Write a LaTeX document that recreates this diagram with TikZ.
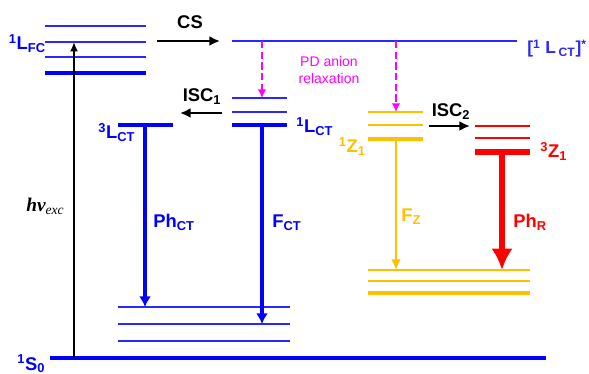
\documentclass[tikz,border=0pt]{standalone}
\usepackage{fontspec}
\setmainfont{Liberation Sans}
\newfontfamily\timesfont{Liberation Serif}
\usetikzlibrary{arrows.meta,positioning,calc}
\definecolor{lblue}{RGB}{0,0,255}
\definecolor{tblue}{RGB}{40,40,255}
\definecolor{zorange}{RGB}{255,192,0}
\definecolor{zred}{RGB}{255,0,0}
\definecolor{pdmag}{RGB}{255,0,255}
\begin{document}
\begin{tikzpicture}[x=0.75pt,y=-0.75pt,>=Latex,
lev/.style={line width=1pt},
levb/.style={line width=3.6pt},
lab/.style={font=\fontsize{13.8}{16}\selectfont\bfseries,inner sep=0pt},
decay/.style={-{Latex[length=8pt,width=9pt]},line width=2.7pt,draw=lblue},
flow/.style={-{Latex[length=8pt,width=7.5pt]},line width=1.7pt},
relax/.style={-{Latex[length=6.5pt,width=6.5pt]},line width=1.9pt,draw=pdmag,dash pattern=on 5.5pt off 2.5pt}]
\useasboundingbox (0,0) rectangle (589,374);
% singlet Franck-Condon manifold
\foreach \y in {26,42,57} \draw[lev,tblue] (45,\y) -- (146,\y);
\draw[levb,lblue] (45,73) -- (146,73);
\node[lab,lblue,anchor=base east] (lfc) at (46,50) {\textsuperscript{1}L\textsubscript{FC}};
% hot CT state
\draw[lev,tblue] (232,41) -- (517,41);
\node[lab,tblue,anchor=base east,font=\fontsize{13}{15}\selectfont\bfseries] (lcthot) at (587,54) {[\textsuperscript{1} L\,\textsubscript{CT}]\textsuperscript{*}};
% relaxed CT states
\foreach \y in {98,112} \draw[lev,tblue] (232,\y) -- (287,\y);
\draw[levb,lblue] (232,125) -- (287,125);
\node[lab,lblue,anchor=base west] (lct) at (296,133) {\textsuperscript{1}L\textsubscript{CT}};
\draw[levb,lblue] (118,125) -- (173,125);
\node[lab,lblue,anchor=base west] (tct) at (98,139) {\textsuperscript{3}L\textsubscript{CT}};
% ground state
\foreach \y in {307,324,341} \draw[lev,tblue] (118,\y) -- (290,\y);
\draw[line width=3pt,lblue] (50,358) -- (546,358);
\node[lab,lblue,anchor=base west] (gs) at (17,370) {\textsuperscript{1}S\textsubscript{0}};
% zwitterion states
\foreach \y in {112,125} \draw[lev,zorange] (368,\y) -- (423,\y);
\draw[levb,zorange] (368,139) -- (423,139);
\node[lab,zorange,anchor=base east] (sz) at (366,153) {\textsuperscript{1}Z\textsubscript{1}};
\foreach \y in {126,138} \draw[lev,zred] (475,\y) -- (530,\y);
\draw[line width=4.2pt,zred] (475,152) -- (530,152);
\node[lab,zred,anchor=base west] (tz) at (540,158) {\textsuperscript{3}Z\textsubscript{1}};
\foreach \y in {270,281} \draw[lev,zorange] (368,\y) -- (530,\y);
\draw[levb,zorange] (368,293) -- (530,293);
% arrow end points
\coordinate (exc0) at (74,358); \coordinate (exc1) at (74,42);
\coordinate (cs0) at (157,41); \coordinate (cs1) at (220,41);
\coordinate (pd0) at (262,41); \coordinate (pd1) at (262,98);
\coordinate (pz0) at (396,41); \coordinate (pz1) at (396,112);
\coordinate (isa0) at (222,113); \coordinate (isa1) at (180,113);
\coordinate (isb0) at (429,126); \coordinate (isb1) at (470,126);
\coordinate (ph0) at (145,125); \coordinate (ph1) at (145,307);
\coordinate (fl0) at (262,125); \coordinate (fl1) at (262,324);
\coordinate (fz0) at (396,139); \coordinate (fz1) at (396,270);
\coordinate (pr0) at (502,152); \coordinate (pr1) at (502,270);
\draw[-{Latex[length=7pt,width=6pt]},line width=1.3pt] (exc0) -- (exc1);
\node[anchor=base west,inner sep=0pt,font=\timesfont\fontsize{14.5}{16}\selectfont\bfseries\itshape] (hv) at (26,212) {hν\textsubscript{\mdseries exc}};
\draw[flow] (cs0) -- (cs1);
\node[lab,anchor=base] (cs) at (190,29) {CS};
\draw[relax] (pd0) -- (pd1);
\draw[relax] (pz0) -- (pz1);
\node[pdmag,align=center,font=\fontsize{10.5}{13}\selectfont] (pd) at (329,70) {PD anion\\relaxation};
\draw[flow] (isa0) -- (isa1);
\node[lab,anchor=base] (isca) at (202,102) {ISC\textsubscript{1}};
\draw[flow] (isb0) -- (isb1);
\node[lab,anchor=base] (iscb) at (451,117) {ISC\textsubscript{2}};
\draw[decay] (ph0) -- (ph1);
\node[lab,lblue,anchor=base west] (phct) at (153,228) {Ph\textsubscript{CT}};
\draw[decay] (fl0) -- (fl1);
\node[lab,lblue,anchor=base west] (fct) at (272,228) {F\textsubscript{CT}};
\draw[-{Latex[length=8pt,width=7.5pt]},line width=1.6pt,zorange] (fz0) -- (fz1);
\node[lab,zorange,anchor=base west] (fz) at (401,222) {F\textsubscript{Z}};
\draw[-{Latex[length=16pt,width=16pt]},line width=3.8pt,zred] (pr0) -- (pr1);
\node[lab,zred,anchor=base west] (phr) at (513,228) {Ph\textsubscript{R}};
\end{tikzpicture}
\end{document}
